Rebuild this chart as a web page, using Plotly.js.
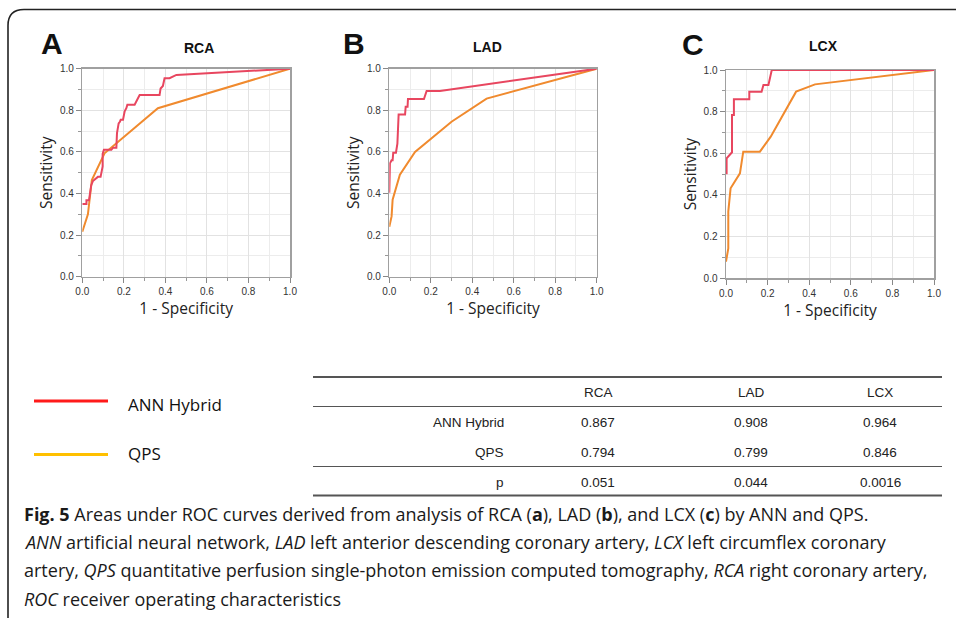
<!DOCTYPE html>
<html>
<head>
<meta charset="utf-8">
<script src="https://cdn.plot.ly/plotly-3.0.1.min.js"></script>
<style>
html,body{margin:0;padding:0;background:#fff;}
#chart{width:956px;height:618px;}
</style>
</head>
<body>
<div id="chart"></div>
<script>
// ---- Data ----
const panelLetters = ['A', 'B', 'C'];
const panelTitles = ['RCA', 'LAD', 'LCX'];

const rcaAnnX = [0, 0.02, 0.02, 0.032, 0.043, 0.051, 0.075, 0.088, 0.098, 0.098, 0.104, 0.14, 0.148, 0.164, 0.167, 0.175, 0.181, 0.185, 0.196, 0.204, 0.212, 0.217, 0.252, 0.265, 0.276, 0.372, 0.377, 0.388, 0.396, 0.42, 0.453, 1];
const rcaAnnY = [0.35, 0.35, 0.367, 0.367, 0.44, 0.46, 0.48, 0.48, 0.53, 0.59, 0.61, 0.61, 0.62, 0.62, 0.69, 0.737, 0.745, 0.755, 0.755, 0.795, 0.81, 0.827, 0.827, 0.85, 0.873, 0.873, 0.905, 0.917, 0.954, 0.954, 0.97, 1];
const rcaQpsX = [0, 0.027, 0.046, 0.107, 0.364, 1];
const rcaQpsY = [0.216, 0.30, 0.465, 0.593, 0.81, 1];

const ladAnnX = [0, 0.003, 0.011, 0.016, 0.019, 0.032, 0.039, 0.043, 0.045, 0.076, 0.079, 0.088, 0.09, 0.167, 0.18, 0.244, 1];
const ladAnnY = [0.404, 0.545, 0.56, 0.56, 0.596, 0.596, 0.64, 0.705, 0.78, 0.78, 0.817, 0.817, 0.854, 0.854, 0.893, 0.893, 1];
const ladQpsX = [0, 0.011, 0.016, 0.051, 0.124, 0.30, 0.469, 1];
const ladQpsY = [0.24, 0.29, 0.37, 0.49, 0.60, 0.745, 0.856, 1];

const lcxAnnX = [0.003, 0.003, 0.029, 0.029, 0.038, 0.038, 0.112, 0.112, 0.171, 0.18, 0.204, 0.22, 1];
const lcxAnnY = [0.50, 0.576, 0.605, 0.784, 0.784, 0.86, 0.86, 0.896, 0.896, 0.928, 0.928, 1.0, 1.0];
const lcxQpsX = [0, 0.011, 0.011, 0.022, 0.067, 0.083, 0.163, 0.215, 0.337, 0.428, 1];
const lcxQpsY = [0.08, 0.144, 0.32, 0.432, 0.504, 0.608, 0.608, 0.68, 0.896, 0.931, 1];

const seriesNames = ['ANN Hybrid', 'QPS'];
const tableCols = ['RCA', 'LAD', 'LCX'];
const tableRows = ['ANN Hybrid', 'QPS', 'p'];
const aucAnn = [0.867, 0.908, 0.964];
const aucQps = [0.794, 0.799, 0.846];
const pValues = ['0.051', '0.044', '0.0016'];

const captionLines = [
  '<b>Fig. 5</b> Areas under ROC curves derived from analysis of RCA (<b>a</b>), LAD (<b>b</b>), and LCX (<b>c</b>) by ANN and QPS.',
  '<i>ANN</i> artificial neural network, <i>LAD</i> left anterior descending coronary artery, <i>LCX</i> left circumflex coronary',
  'artery, <i>QPS</i> quantitative perfusion single-photon emission computed tomography, <i>RCA</i> right coronary artery,',
  '<i>ROC</i> receiver operating characteristics'
];

// ---- Layout helpers (pixel -> paper) ----
const W = 956, H = 618;
const px = x => x / W;
const py = y => 1 - y / H;

const annColor = '#e8465f';
const qpsColor = '#f08a2e';
const legendAnnColor = '#ff1a1a';
const legendQpsColor = '#ffc000';

const panels = [
  {ann: [rcaAnnX, rcaAnnY], qps: [rcaQpsX, rcaQpsY], x0: 82.3, x1: 290, yTop: 68.7, yBot: 276.7, letterX: 51.5, letterY: 43, titleX: 199, titleY: 48},
  {ann: [ladAnnX, ladAnnY], qps: [ladQpsX, ladQpsY], x0: 389.3, x1: 596.7, yTop: 68.7, yBot: 276.7, letterX: 354, letterY: 43, titleX: 487.5, titleY: 47},
  {ann: [lcxAnnX, lcxAnnY], qps: [lcxQpsX, lcxQpsY], x0: 726, x1: 934, yTop: 70, yBot: 278.3, letterX: 693, letterY: 44, titleX: 823, titleY: 46}
];

const traces = [];
const layout = {
  width: W, height: H,
  margin: {l: 0, r: 0, t: 0, b: 0},
  paper_bgcolor: '#fff', plot_bgcolor: '#fff',
  showlegend: false,
  annotations: [],
  shapes: [],
  font: {family: 'Open Sans, Arial, sans-serif', color: '#222'}
};

const tickFont = {family: 'Liberation Sans, Arial, sans-serif', size: 10, color: '#333'};
const titleFont = {family: 'Open Sans, Arial, sans-serif', size: 15.5, color: '#222'};

panels.forEach((p, i) => {
  const n = i === 0 ? '' : String(i + 1);
  const xa = 'x' + n, ya = 'y' + n;
  traces.push({x: p.qps[0], y: p.qps[1], xaxis: xa, yaxis: ya, type: 'scatter', mode: 'lines', name: seriesNames[1], line: {color: qpsColor, width: 2}, hoverinfo: 'skip'});
  traces.push({x: p.ann[0], y: p.ann[1], xaxis: xa, yaxis: ya, type: 'scatter', mode: 'lines', name: seriesNames[0], line: {color: annColor, width: 2}, hoverinfo: 'skip'});
  const common = {
    range: [0, 1], fixedrange: true, zeroline: false,
    showline: true, mirror: true, linecolor: '#a0a0a0', linewidth: 1.5,
    showgrid: true, gridcolor: '#e2e2e2', gridwidth: 1,
    tickvals: [0, 0.2, 0.4, 0.6, 0.8, 1.0], tickformat: '.1f',
    ticks: 'outside', ticklen: 5, tickcolor: '#888', tickwidth: 1,
    tickfont: tickFont, automargin: false,
    minor: {dtick: 0.1, tick0: 0, showgrid: true, gridcolor: '#ececec', ticks: 'outside', ticklen: 3, tickcolor: '#999'}
  };
  layout['xaxis' + n] = Object.assign({}, common, {
    domain: [px(p.x0), px(p.x1)], anchor: ya,
    title: {text: '1 - Specificity', font: titleFont, standoff: 5}
  });
  layout['yaxis' + n] = Object.assign({}, common, {
    domain: [py(p.yBot), py(p.yTop)], anchor: xa,
    title: {text: 'Sensitivity', font: titleFont, standoff: 3}
  });
  layout.annotations.push({
    text: '<b>' + panelLetters[i] + '</b>', xref: 'paper', yref: 'paper',
    x: px(p.letterX), y: py(p.letterY), xanchor: 'center', yanchor: 'middle', showarrow: false,
    font: {family: 'Liberation Sans, Arial, sans-serif', size: 30, color: '#111'}
  });
  layout.annotations.push({
    text: '<b>' + panelTitles[i] + '</b>', xref: 'paper', yref: 'paper',
    x: px(p.titleX), y: py(p.titleY), xanchor: 'center', yanchor: 'middle', showarrow: false,
    font: {family: 'Liberation Sans, Arial, sans-serif', size: 14, color: '#111'}
  });
});

// ---- Figure frame (rounded top-left corner) ----
const fx = 8, fy = 9.5, r = 16;
layout.shapes.push({
  type: 'path', xref: 'paper', yref: 'paper',
  path: `M ${px(fx)},${py(H + 2)} L ${px(fx)},${py(fy + r)} Q ${px(fx)},${py(fy)} ${px(fx + r)},${py(fy)} L ${px(W + 2)},${py(fy)}`,
  line: {color: '#222', width: 1.6}
});

// ---- Legend (drawn as figure decoration) ----
const legendItems = [
  {name: seriesNames[0], color: legendAnnColor, y: 401, ty: 404},
  {name: seriesNames[1], color: legendQpsColor, y: 454.5, ty: 453.5}
];
legendItems.forEach(it => {
  layout.shapes.push({type: 'line', xref: 'paper', yref: 'paper', x0: px(34), x1: px(108), y0: py(it.y), y1: py(it.y), line: {color: it.color, width: 3}});
  layout.annotations.push({text: it.name, xref: 'paper', yref: 'paper', x: px(126), y: py(it.ty), xanchor: 'left', yanchor: 'middle', showarrow: false, font: {family: 'Open Sans, Arial, sans-serif', size: 17, color: '#111'}});
});

// ---- AUC table ----
const tblX0 = 313, tblX1 = 942;
const tableLines = [{y: 377, w: 2}, {y: 406.5, w: 1.2}, {y: 466.5, w: 1.2}, {y: 495.5, w: 2}];
tableLines.forEach(l => layout.shapes.push({type: 'line', xref: 'paper', yref: 'paper', x0: px(tblX0), x1: px(tblX1), y0: py(l.y), y1: py(l.y), line: {color: '#555', width: l.w}}));
const colCenters = [598, 751, 880];
const rowCenters = [422, 452.5, 482.5];
const tblFont = {family: 'Liberation Sans, Arial, sans-serif', size: 13.5, color: '#222'};
tableCols.forEach((c, j) => layout.annotations.push({text: c, xref: 'paper', yref: 'paper', x: px(colCenters[j]), y: py(392), xanchor: 'center', yanchor: 'middle', showarrow: false, font: tblFont}));
const tableVals = [aucAnn.map(v => v.toFixed(3)), aucQps.map(v => v.toFixed(3)), pValues];
tableRows.forEach((rn, k) => {
  layout.annotations.push({text: rn, xref: 'paper', yref: 'paper', x: px(506), y: py(rowCenters[k]), xanchor: 'right', yanchor: 'middle', showarrow: false, font: tblFont});
  tableVals[k].forEach((v, j) => layout.annotations.push({text: v, xref: 'paper', yref: 'paper', x: px(colCenters[j]), y: py(rowCenters[k]), xanchor: 'center', yanchor: 'middle', showarrow: false, font: tblFont}));
});

// ---- Caption ----
const capY = [514, 542, 570, 598.5];
captionLines.forEach((t, k) => layout.annotations.push({
  text: t, xref: 'paper', yref: 'paper', x: px(22), y: py(capY[k]), xanchor: 'left', yanchor: 'middle', align: 'left', showarrow: false,
  font: {family: 'Open Sans, Arial, sans-serif', size: 18, color: '#1a1a1a'}
}));

Plotly.newPlot('chart', traces, layout, {staticPlot: true, displayModeBar: false});
</script>
</body>
</html>
